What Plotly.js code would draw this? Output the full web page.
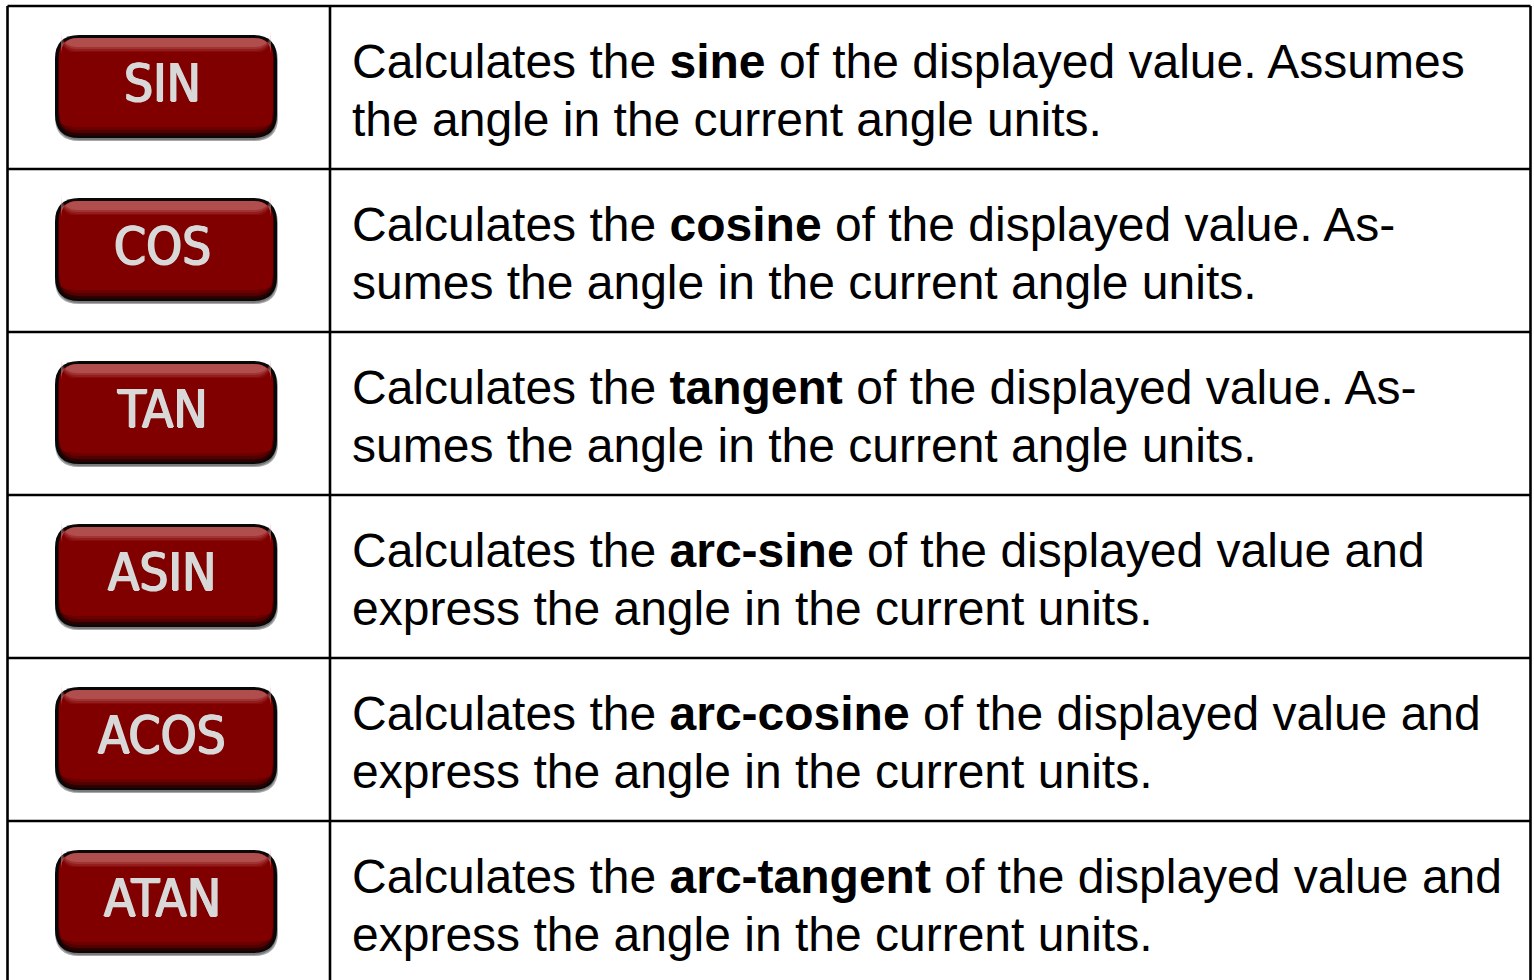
<!DOCTYPE html>
<html>
<head>
<meta charset="utf-8">
<script src="https://cdn.plot.ly/plotly-3.0.1.min.js"></script>
<style>html,body{margin:0;padding:0;background:#fff;overflow:hidden}#chart{width:1534px;height:980px}</style>
</head>
<body>
<div id="chart"></div>
<script>
// ---- data ----
const keys = ['SIN', 'COS', 'TAN', 'ASIN', 'ACOS', 'ATAN'];
const boldTerms = ['sine', 'cosine', 'tangent', 'arc-sine', 'arc-cosine', 'arc-tangent'];
const firstLineTails = [
  'of the displayed value. Assumes',
  'of the displayed value. As-',
  'of the displayed value. As-',
  'of the displayed value and',
  'of the displayed value and',
  'of the displayed value and'
];
const secondLines = [
  'the angle in the current angle units.',
  'sumes the angle in the current angle units.',
  'sumes the angle in the current angle units.',
  'express the angle in the current units.',
  'express the angle in the current units.',
  'express the angle in the current units.'
];
const leadWords = 'Calculates the';

// ---- layout geometry ----
const W = 1534, H = 980;
const tableLeft = 7.5, tableRight = 1530.5, tableTop = 6, colDiv = 330, rowH = 163;
const btn = {x0: 55, x1: 278, dy0: 29, dy1: 132, r: 24};

function rr(x0, y0, x1, y1, r) {
  return `M${x0 + r},${y0} L${x1 - r},${y0} Q${x1},${y0} ${x1},${y0 + r} L${x1},${y1 - r} Q${x1},${y1} ${x1 - r},${y1} L${x0 + r},${y1} Q${x0},${y1} ${x0},${y1 - r} L${x0},${y0 + r} Q${x0},${y0} ${x0 + r},${y0} Z`;
}

const shapes = [];
const annotations = [];
const lineStyle = {color: '#000', width: 2.6};
const labelColor = '#d8d8d8';

// table lines
shapes.push({type: 'line', x0: tableLeft, x1: tableRight, y0: tableTop, y1: tableTop, line: lineStyle});
shapes.push({type: 'line', x0: tableLeft, x1: tableLeft, y0: tableTop, y1: H + 5, line: lineStyle});
shapes.push({type: 'line', x0: tableRight, x1: tableRight, y0: tableTop, y1: H + 5, line: lineStyle});
shapes.push({type: 'line', x0: colDiv, x1: colDiv, y0: tableTop, y1: H + 5, line: lineStyle});

keys.forEach((k, i) => {
  const top = tableTop + i * rowH;
  if (i > 0) shapes.push({type: 'line', x0: tableLeft, x1: tableRight, y0: top, y1: top, line: lineStyle});
  const y0 = top + btn.dy0, y1 = top + btn.dy1;
  // soft outer shadow
  shapes.push({type: 'path', path: rr(btn.x0, y0 + 2, btn.x1, y1 + 3, btn.r), fillcolor: '#a8a8a8', line: {width: 0}});
  shapes.push({type: 'path', path: rr(btn.x0 + 1, y0 + 2, btn.x1 - 1, y1 + 2, btn.r), fillcolor: '#7a7a7a', line: {width: 0}});
  // outline
  shapes.push({type: 'path', path: rr(btn.x0, y0, btn.x1 - 1, y1, btn.r), fillcolor: '#080808', line: {width: 0}});
  // dark bottom of body
  shapes.push({type: 'path', path: rr(btn.x0 + 3, y0 + 3, btn.x1 - 4, y1 - 2, btn.r - 3), fillcolor: '#2a0000', line: {width: 0}});
  shapes.push({type: 'path', path: rr(btn.x0 + 3.5, y0 + 3, btn.x1 - 4.5, y1 - 5, btn.r - 4), fillcolor: '#520000', line: {width: 0}});
  shapes.push({type: 'path', path: rr(btn.x0 + 4, y0 + 3, btn.x1 - 5, y1 - 8, btn.r - 4), fillcolor: '#6c0000', line: {width: 0}});
  // main red body
  shapes.push({type: 'path', path: rr(btn.x0 + 4, y0 + 3, btn.x1 - 5, y1 - 11, btn.r - 5), fillcolor: '#800000', line: {width: 0}});
  // top glossy highlight (stacked translucent layers for a soft gradient)
  const gloss = [[3, 6, 0.22], [3, 8, 0.16], [3, 10, 0.11], [3, 12, 0.07]];
  gloss.forEach(g => {
    shapes.push({type: 'path', path: rr(btn.x0 + 6, y0 + g[0], btn.x1 - 7, y0 + g[1] + 6, btn.r - 7),
      fillcolor: `rgba(235,170,170,${g[2]})`, line: {width: 0}});
  });
  // re-cover lower part of gloss with body red
  shapes.push({type: 'path', path: rr(btn.x0 + 5, y0 + 17, btn.x1 - 6, y1 - 12, 8), fillcolor: '#800000', line: {width: 0}});
  // label
  annotations.push({
    x: 162, y: (y0 + y1) / 2 - 3, xref: 'x', yref: 'y',
    text: k, showarrow: false, xanchor: 'center', yanchor: 'middle',
    font: {family: 'DejaVu Sans Condensed, sans-serif', size: 51, color: labelColor,
      shadow: `0.9px 0 0 ${labelColor}, -0.9px 0 0 ${labelColor}, 0 0.5px 0 ${labelColor}`}
  });
  // description lines
  const l1 = `${leadWords} <b>${boldTerms[i]}</b> ${firstLineTails[i]}`;
  [l1, secondLines[i]].forEach((t, j) => {
    annotations.push({
      x: 350, y: top + 55 + j * 58, xref: 'x', yref: 'y',
      text: t, showarrow: false, xanchor: 'left', yanchor: 'middle',
      font: {family: 'Liberation Sans, Arial, sans-serif', size: 48, color: '#000'}
    });
  });
});

const layout = {
  width: W, height: H,
  margin: {l: 0, r: 0, t: 0, b: 0},
  paper_bgcolor: '#fff', plot_bgcolor: '#fff',
  xaxis: {range: [0, W], visible: false, fixedrange: true},
  yaxis: {range: [H, 0], visible: false, fixedrange: true},
  showlegend: false,
  shapes: shapes,
  annotations: annotations
};

Plotly.newPlot('chart', [{x: [], y: [], type: 'scatter'}], layout, {displayModeBar: false, staticPlot: true});
</script>
</body>
</html>
